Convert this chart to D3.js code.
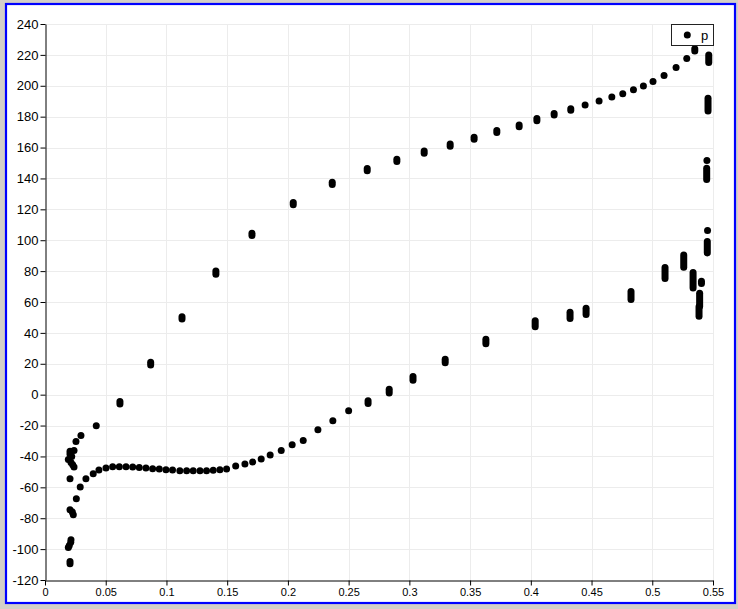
<!DOCTYPE html>
<html>
<head>
<meta charset="utf-8">
<script src="https://cdn.jsdelivr.net/npm/d3@7"></script>
<style>
  html, body { margin: 0; padding: 0; background: #d4d0c8; }
  svg { display: block; }
</style>
</head>
<body>
<svg id="chart" width="738" height="609"></svg>
<script>
// ---- data (x, p) ----
const seriesName = "p";
const xTicks = [0, 0.05, 0.1, 0.15, 0.2, 0.25, 0.3, 0.35, 0.4, 0.45, 0.5, 0.55];
const yTicks = [-120, -100, -80, -60, -40, -20, 0, 20, 40, 60, 80, 100, 120, 140, 160, 180, 200, 220, 240];

const noseCluster = [
  [0.0206, -109.5], [0.0206, -108], [0.0192, -98.9], [0.0200, -97.6], [0.0212, -95.5], [0.0214, -94],
  [0.0206, -74.5], [0.0225, -76], [0.0233, -77.7], [0.0206, -54.4],
  [0.0206, -36.7], [0.0239, -36.1], [0.0206, -38.5], [0.0220, -40], [0.0192, -42],
  [0.0214, -44], [0.0228, -45.4], [0.0239, -46.9]
];

const upperBranch = [
  [0.0255, -30.3], [0.0296, -26.4], [0.0422, -20.1], [0.0617, -4.5], [0.0617, -6],
  [0.087, 19.2], [0.087, 21], [0.1128, 49], [0.1128, 50.5], [0.1407, 78], [0.1407, 80],
  [0.1704, 103], [0.1704, 104.5], [0.2044, 123], [0.2044, 124.5], [0.2365, 136], [0.2365, 137.5],
  [0.2653, 145], [0.2653, 146.5], [0.2897, 151], [0.2897, 152.5], [0.3122, 156.3], [0.3122, 157.8],
  [0.3336, 160.8], [0.3336, 162.3], [0.3533, 165.3], [0.3533, 166.6], [0.372, 169.7], [0.372, 171],
  [0.3904, 173.5], [0.3904, 174.6], [0.405, 177.4], [0.405, 178.8], [0.4192, 181], [0.4192, 182],
  [0.4329, 184.2], [0.4329, 185.2], [0.4447, 187.6], [0.4562, 190.1], [0.4667, 192.7], [0.4757, 194.9],
  [0.4845, 197.5], [0.4927, 199.9], [0.5006, 202.8], [0.5097, 206.7], [0.5196, 211.9],
  [0.5284, 217.7], [0.535, 222.5], [0.535, 224]
];

const lowerBranch = [
  [0.0258, -67.4], [0.029, -59.8], [0.0337, -54.4], [0.0397, -51.2], [0.0444, -48.8], [0.0502, -47.5],
  [0.0557, -46.6], [0.0612, -46.6], [0.0667, -46.6], [0.0722, -46.8], [0.0776, -47.1], [0.0831, -47.5],
  [0.0886, -48], [0.0941, -48.1], [0.0996, -48.6], [0.105, -48.8], [0.111, -49.2], [0.1166, -49.2],
  [0.122, -49.2], [0.1276, -49.2], [0.133, -49.2], [0.1385, -49], [0.144, -48.6], [0.1495, -48.1],
  [0.157, -46.2], [0.1646, -44.9], [0.171, -43.6], [0.178, -41.7], [0.1854, -39.1], [0.1945, -36.1],
  [0.2035, -32.4], [0.2126, -29.6], [0.2247, -22.7], [0.237, -16.9], [0.250, -10.4],
  [0.266, -4], [0.266, -5.7], [0.2834, 3.5], [0.2834, 1.1], [0.303, 11.7], [0.303, 9.4],
  [0.3295, 22.9], [0.3295, 20.6], [0.363, 35.9], [0.363, 32.9], [0.4036, 47.8], [0.4036, 43.9],
  [0.4323, 53.4], [0.4323, 51.3], [0.4323, 49.3], [0.4455, 56], [0.4455, 54], [0.4455, 51.9],
  [0.4825, 66.8], [0.4825, 64.2], [0.4825, 61.6],
  [0.5105, 82.4], [0.5105, 80], [0.5105, 77.6], [0.5105, 75.2],
  [0.5259, 90.5], [0.5259, 87.8], [0.5259, 85.2], [0.5259, 82.5],
  [0.5336, 79.1], [0.5336, 75.8], [0.5336, 72.4], [0.5336, 69.1]
];

const trailingEdge = [
  [0.5405, 73.5], [0.5405, 72],
  [0.5390, 65.7], [0.5390, 63], [0.5390, 60.5], [0.5390, 57.3],
  [0.5385, 57], [0.5385, 54], [0.5385, 50.8],
  [0.5455, 106.3],
  [0.5453, 99.2], [0.5453, 96.7], [0.5453, 94.2], [0.5453, 91.8],
  [0.5450, 151.6],
  [0.5448, 146.6], [0.5448, 144.2], [0.5448, 141.7], [0.5448, 139.3],
  [0.5459, 192], [0.5459, 189.2], [0.5459, 186.4], [0.5459, 183.6],
  [0.5465, 220], [0.5465, 217.5], [0.5465, 215]
];

const allPoints = [].concat(noseCluster, upperBranch, lowerBranch, trailingEdge);

// ---- drawing ----
const svg = d3.select("#chart");
const W = 738, H = 609;
const plot = { left: 45, right: 713, top: 24, bottom: 580 };
const R = 3.5;

// window frame
svg.append("rect").attr("x", 0).attr("y", 0).attr("width", W).attr("height", H).attr("fill", "#d4d0c8");
svg.append("rect").attr("x", 6).attr("y", 4).attr("width", 729).attr("height", 599)
  .attr("fill", "#ffffff").attr("stroke", "#0000ff").attr("stroke-width", 2.2);

const x = d3.scaleLinear().domain([0, 0.55]).range([plot.left, plot.right]);
const y = d3.scaleLinear().domain([-120, 240]).range([plot.bottom, plot.top]);

// grid
const grid = svg.append("g").attr("stroke", "#ececec").attr("stroke-width", 1);
grid.selectAll("line.v").data(xTicks.filter(d => d > 0)).join("line")
  .attr("x1", d => Math.round(x(d)) + 0.5).attr("x2", d => Math.round(x(d)) + 0.5)
  .attr("y1", plot.top).attr("y2", plot.bottom);
grid.selectAll("line.h").data(yTicks.filter(d => d > -120)).join("line")
  .attr("y1", d => Math.round(y(d)) + 0.5).attr("y2", d => Math.round(y(d)) + 0.5)
  .attr("x1", plot.left).attr("x2", plot.right);

// axes
const fmtX = d => d === 0 ? "0" : d3.format("~g")(d);
const xAxis = svg.append("g")
  .attr("transform", `translate(0,${plot.bottom + 0.5})`)
  .call(d3.axisBottom(x).tickValues(xTicks).tickFormat(fmtX).tickSize(5).tickPadding(3).tickSizeOuter(0));
xAxis.selectAll("text").attr("font-family", "Liberation Sans, Arial, sans-serif").attr("font-size", "11px").attr("fill", "#000");
xAxis.selectAll("line, path").attr("stroke", "#000");

const yAxis = svg.append("g")
  .attr("transform", `translate(${plot.left + 0.5},0)`)
  .call(d3.axisLeft(y).tickValues(yTicks).tickFormat(d => String(d)).tickSize(5).tickPadding(2).tickSizeOuter(0));
yAxis.selectAll("text").attr("font-family", "Liberation Sans, Arial, sans-serif").attr("font-size", "13px").attr("fill", "#000");
yAxis.selectAll("line, path").attr("stroke", "#000");

// points: points at the same x that touch each other merge into one solid capsule, as in the reference
const runs = [];
d3.groups(allPoints, d => d[0]).forEach(([gx, pts]) => {
  const ys = pts.map(d => d[1]).sort((a, b) => a - b);
  let run = [ys[0]];
  for (let i = 1; i < ys.length; i++) {
    if (ys[i] - ys[i - 1] <= 4.5) run.push(ys[i]);
    else { runs.push({ x: gx, lo: run[0], hi: run[run.length - 1] }); run = [ys[i]]; }
  }
  runs.push({ x: gx, lo: run[0], hi: run[run.length - 1] });
});
svg.append("g").selectAll("rect").data(runs).join("rect")
  .attr("x", d => x(d.x) - R)
  .attr("width", 2 * R)
  .attr("y", d => y(d.hi) - R)
  .attr("height", d => y(d.lo) - y(d.hi) + 2 * R)
  .attr("rx", R).attr("ry", R)
  .attr("fill", "#000");

// legend
const lg = svg.append("g");
lg.append("rect").attr("x", 671.5).attr("y", 24.5).attr("width", 42).attr("height", 21)
  .attr("fill", "#fff").attr("stroke", "#222").attr("stroke-width", 1);
lg.append("circle").attr("cx", 687.3).attr("cy", 35).attr("r", R).attr("fill", "#000");
lg.append("text").attr("x", 701).attr("y", 39.5).attr("font-family", "Liberation Sans, Arial, sans-serif")
  .attr("font-size", "13px").attr("fill", "#000").text(seriesName);
</script>
</body>
</html>
